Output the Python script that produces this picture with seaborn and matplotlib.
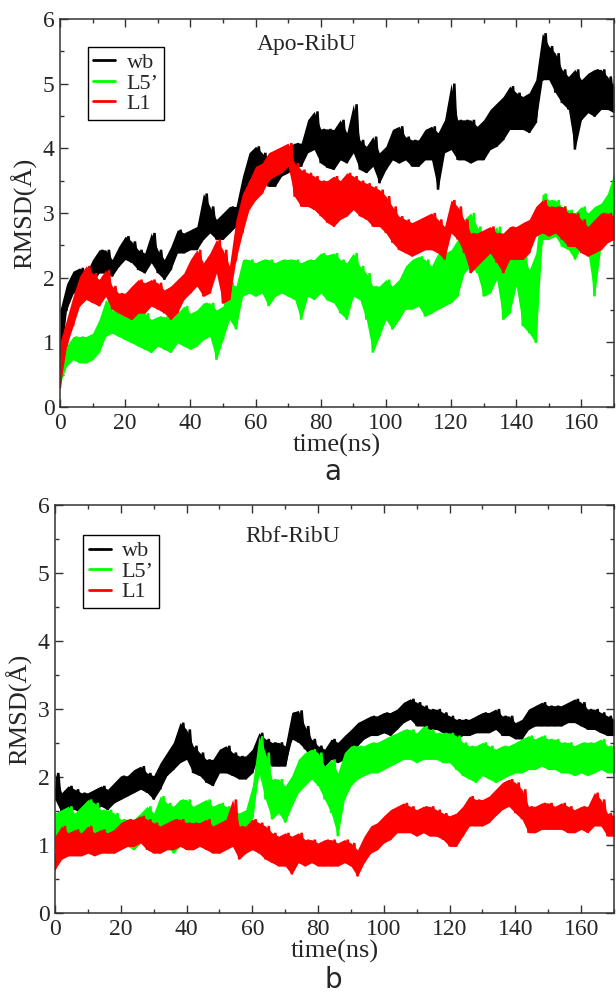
import glob
import numpy as np
import pandas as pd
import matplotlib
matplotlib.use("Agg")
import matplotlib.pyplot as plt
from matplotlib import font_manager as fm
from matplotlib.lines import Line2D
import seaborn as sns

# readings taken every 2 ns: lower / upper edge of each noisy trace (RMSD, Angstrom)
time_ns = list(range(0, 171, 2))
segments = ["wb", "L5\u2019", "L1"]
seg_colors = {"wb": "black", "L5\u2019": "#00ff00", "L1": "#ff0000"}

# ---- a: Apo-RibU
apo_wb_lo = [0.6, 1.5, 1.75, 1.87, 1.76, 1.92, 2.07, 2.07, 2.02, 2.17,
             2.28, 2.23, 2.12, 2.07, 2.23, 2.07, 1.97, 2.12, 2.38, 2.38,
             2.43, 2.43, 2.59, 2.69, 2.59, 2.59, 2.69, 2.79, 3.2, 3.5,
             3.57, 3.5, 3.41, 3.41, 3.57, 3.62, 3.72, 3.72, 3.93, 3.98,
             3.77, 3.7, 3.67, 3.82, 3.77, 3.93, 3.67, 3.62, 3.72, 3.46,
             3.67, 3.82, 3.77, 3.82, 3.72, 3.72, 3.82, 3.82, 3.36, 3.93,
             3.98, 3.82, 3.82, 3.77, 3.82, 3.82, 3.98, 4.03, 4.13, 4.29,
             4.29, 4.29, 4.24, 4.39, 5.06, 5.06, 4.86, 4.7, 4.6, 3.98,
             4.44, 4.55, 4.49, 4.6, 4.6, 4.55]
apo_wb_hi = [1.5, 1.9, 2.1, 2.15, 2.07, 2.28, 2.43, 2.43, 2.28, 2.48,
             2.64, 2.56, 2.43, 2.38, 2.69, 2.43, 2.28, 2.48, 2.74, 2.69,
             2.74, 2.79, 3.3, 3.1, 2.9, 3.0, 3.1, 3.1, 3.57, 3.93,
             4.03, 3.93, 3.82, 3.88, 3.98, 4.03, 4.08, 4.08, 4.44, 4.57,
             4.3, 4.3, 4.29, 4.44, 4.24, 4.68, 4.13, 4.03, 4.18, 3.93,
             4.03, 4.29, 4.34, 4.18, 4.13, 4.13, 4.29, 4.34, 4.24, 4.44,
             5.0, 4.44, 4.44, 4.44, 4.34, 4.44, 4.6, 4.7, 4.8, 4.96,
             4.86, 4.8, 4.86, 5.06, 5.78, 5.58, 5.47, 5.22, 5.11, 5.22,
             5.06, 5.16, 5.22, 5.22, 5.11, 4.96]
apo_l5_lo = [0.35, 0.63, 0.73, 0.68, 0.68, 0.73, 0.84, 1.09, 1.14, 1.09,
             1.04, 0.99, 0.94, 0.89, 0.84, 0.94, 0.89, 0.84, 0.99, 0.94,
             0.89, 0.94, 1.04, 1.09, 0.73, 1.04, 1.35, 1.2, 1.71, 1.76,
             1.71, 1.76, 1.56, 1.71, 1.76, 1.71, 1.66, 1.35, 1.71, 1.66,
             1.76, 1.65, 1.61, 1.45, 1.35, 1.71, 1.66, 1.35, 0.84, 1.09,
             1.35, 1.2, 1.35, 1.51, 1.51, 1.56, 1.4, 1.45, 1.51, 1.56,
             1.61, 1.71, 2.07, 2.18, 2.07, 1.71, 1.76, 1.97, 1.35, 1.45,
             1.87, 1.25, 1.14, 0.99, 2.59, 2.59, 2.64, 2.48, 2.43, 2.28,
             2.48, 2.38, 1.71, 2.48, 2.79, 2.9]
apo_l5_hi = [0.8, 0.94, 1.09, 1.09, 1.09, 1.14, 1.35, 1.66, 1.5, 1.45,
             1.4, 1.45, 1.5, 1.45, 1.35, 1.4, 1.4, 1.35, 1.45, 1.56,
             1.45, 1.5, 1.61, 1.61, 1.5, 1.56, 1.92, 1.87, 2.28, 2.28,
             2.23, 2.28, 2.28, 2.23, 2.28, 2.28, 2.28, 2.23, 2.28, 2.28,
             2.38, 2.35, 2.38, 2.28, 2.23, 2.38, 2.18, 2.07, 1.87, 1.87,
             1.97, 1.87, 1.97, 2.18, 2.28, 2.33, 2.28, 2.18, 2.38, 2.38,
             2.43, 2.59, 2.9, 3.0, 2.79, 2.64, 2.69, 2.79, 2.48, 2.38,
             2.79, 2.38, 2.12, 2.38, 3.3, 3.2, 3.2, 3.1, 3.05, 3.0,
             3.1, 3.0, 3.1, 3.15, 3.3, 3.62]
apo_l1_lo = [0.3, 0.94, 1.25, 1.56, 1.66, 1.61, 1.56, 1.71, 1.51, 1.45,
             1.4, 1.35, 1.45, 1.45, 1.56, 1.51, 1.45, 1.35, 1.45, 1.66,
             1.76, 1.87, 1.71, 1.76, 2.07, 1.6, 1.66, 2.28, 2.69, 3.05,
             3.2, 3.3, 3.5, 3.57, 3.62, 3.72, 3.25, 3.1, 3.1, 3.05,
             2.95, 2.85, 2.79, 2.9, 2.95, 3.05, 2.95, 2.9, 2.79, 2.79,
             2.69, 2.54, 2.43, 2.38, 2.33, 2.38, 2.43, 2.43, 2.38, 2.28,
             2.69, 2.59, 2.38, 2.07, 2.18, 2.28, 2.38, 2.23, 2.07, 2.28,
             2.28, 2.28, 2.38, 2.64, 2.69, 2.64, 2.69, 2.59, 2.48, 2.48,
             2.38, 2.33, 2.38, 2.43, 2.54, 2.59]
apo_l1_hi = [1.0, 1.35, 1.71, 2.02, 2.18, 2.07, 1.97, 2.12, 1.87, 1.76,
             1.76, 1.87, 1.97, 1.92, 1.97, 1.92, 1.81, 1.87, 1.97, 2.07,
             2.28, 2.43, 2.23, 2.38, 2.59, 2.43, 2.18, 2.9, 3.3, 3.5,
             3.72, 3.77, 3.93, 3.98, 4.03, 4.08, 3.77, 3.67, 3.62, 3.57,
             3.5, 3.5, 3.57, 3.5, 3.62, 3.57, 3.5, 3.46, 3.41, 3.36,
             3.26, 3.1, 2.95, 2.9, 2.85, 2.9, 2.95, 3.0, 2.9, 2.79,
             3.2, 3.1, 2.9, 2.69, 2.69, 2.74, 2.79, 2.69, 2.69, 2.79,
             2.79, 2.85, 2.9, 3.1, 3.2, 3.1, 3.1, 3.1, 3.0, 3.0,
             2.9, 2.79, 2.9, 3.0, 3.0, 2.95]

# ---- b: Rbf-RibU
rbf_wb_lo = [1.67, 1.47, 1.52, 1.52, 1.47, 1.47, 1.52, 1.57, 1.52, 1.62,
             1.67, 1.72, 1.77, 1.82, 1.77, 1.67, 1.82, 2.02, 2.11, 2.21,
             2.26, 2.06, 2.02, 1.92, 1.87, 2.06, 2.06, 2.02, 1.97, 1.97,
             2.06, 2.31, 2.26, 2.16, 2.16, 2.16, 2.56, 2.51, 2.41, 2.26,
             2.21, 2.16, 2.26, 2.21, 2.26, 2.36, 2.46, 2.56, 2.61, 2.61,
             2.65, 2.61, 2.7, 2.8, 2.85, 2.75, 2.75, 2.7, 2.7, 2.65,
             2.61, 2.56, 2.61, 2.61, 2.65, 2.65, 2.65, 2.7, 2.61, 2.61,
             2.56, 2.56, 2.7, 2.75, 2.75, 2.75, 2.75, 2.75, 2.8, 2.8,
             2.75, 2.7, 2.7, 2.65, 2.61, 2.61]
rbf_wb_hi = [2.06, 1.77, 1.87, 1.82, 1.77, 1.77, 1.82, 1.87, 1.82, 1.92,
             2.02, 2.02, 2.11, 2.16, 2.06, 2.02, 2.21, 2.36, 2.51, 2.8,
             2.7, 2.46, 2.36, 2.26, 2.26, 2.41, 2.46, 2.36, 2.31, 2.31,
             2.41, 2.65, 2.56, 2.51, 2.51, 2.46, 2.95, 2.98, 2.75, 2.56,
             2.46, 2.41, 2.56, 2.51, 2.61, 2.7, 2.8, 2.85, 2.9, 2.9,
             2.95, 2.95, 3.0, 3.1, 3.15, 3.1, 3.05, 3.0, 3.0, 2.95,
             2.9, 2.85, 2.85, 2.85, 2.9, 2.95, 2.95, 3.0, 2.9, 2.9,
             2.8, 2.85, 3.0, 3.05, 3.1, 3.05, 3.05, 3.05, 3.1, 3.15,
             3.1, 3.0, 3.0, 2.95, 2.9, 2.85]
rbf_l5_lo = [0.98, 1.13, 1.18, 1.08, 1.13, 1.18, 1.18, 1.08, 1.13, 1.08,
             0.98, 0.98, 0.93, 1.03, 1.08, 0.98, 1.13, 0.98, 0.88, 0.98,
             1.08, 1.13, 1.13, 1.13, 1.18, 1.18, 1.18, 1.18, 1.18, 1.23,
             1.38, 2.06, 1.67, 1.38, 1.47, 1.33, 1.57, 1.77, 1.87, 1.97,
             1.87, 1.67, 1.47, 1.13, 1.67, 1.87, 1.97, 2.02, 2.06, 2.06,
             2.11, 2.16, 2.21, 2.26, 2.26, 2.21, 2.26, 2.26, 2.26, 2.21,
             2.21, 2.11, 2.02, 1.97, 1.92, 2.02, 1.97, 1.92, 1.97, 2.02,
             2.06, 2.06, 2.11, 2.11, 2.16, 2.11, 2.11, 2.06, 2.06, 2.02,
             2.06, 2.02, 2.06, 2.11, 2.06, 2.06]
rbf_l5_hi = [1.47, 1.52, 1.57, 1.47, 1.57, 1.67, 1.62, 1.52, 1.52, 1.47,
             1.38, 1.38, 1.38, 1.47, 1.57, 1.47, 1.72, 1.62, 1.57, 1.67,
             1.67, 1.57, 1.62, 1.67, 1.57, 1.62, 1.57, 1.52, 1.47, 1.52,
             1.87, 2.6, 2.36, 1.97, 1.97, 1.87, 2.02, 2.26, 2.36, 2.41,
             2.36, 2.16, 2.26, 2.06, 2.36, 2.46, 2.46, 2.46, 2.51, 2.51,
             2.56, 2.61, 2.65, 2.7, 2.7, 2.65, 2.75, 2.7, 2.65, 2.65,
             2.65, 2.61, 2.51, 2.46, 2.46, 2.51, 2.46, 2.41, 2.46, 2.46,
             2.51, 2.56, 2.61, 2.56, 2.61, 2.56, 2.56, 2.51, 2.51, 2.46,
             2.51, 2.51, 2.51, 2.56, 2.46, 2.46]
rbf_l1_lo = [0.64, 0.79, 0.84, 0.84, 0.84, 0.88, 0.84, 0.88, 0.88, 0.88,
             0.93, 0.98, 0.98, 1.03, 0.93, 0.88, 0.88, 0.93, 0.93, 0.98,
             0.93, 0.93, 0.98, 0.93, 0.88, 0.88, 0.93, 0.98, 0.79, 0.88,
             0.93, 0.88, 0.79, 0.74, 0.69, 0.69, 0.57, 0.74, 0.69, 0.74,
             0.69, 0.69, 0.69, 0.69, 0.74, 0.69, 0.54, 0.74, 0.88, 0.93,
             1.03, 1.08, 1.18, 1.18, 1.18, 1.13, 1.18, 1.13, 1.13, 1.08,
             0.98, 0.98, 1.13, 1.28, 1.28, 1.28, 1.33, 1.43, 1.52, 1.57,
             1.47, 1.38, 1.18, 1.18, 1.23, 1.23, 1.23, 1.23, 1.18, 1.18,
             1.23, 1.18, 1.28, 1.28, 1.13, 1.13]
rbf_l1_hi = [1.13, 1.28, 1.18, 1.23, 1.18, 1.28, 1.18, 1.23, 1.18, 1.23,
             1.33, 1.38, 1.38, 1.43, 1.38, 1.33, 1.28, 1.33, 1.38, 1.38,
             1.33, 1.33, 1.33, 1.38, 1.28, 1.33, 1.38, 1.67, 1.28, 1.28,
             1.38, 1.33, 1.28, 1.18, 1.13, 1.18, 1.13, 1.18, 1.08, 1.08,
             1.03, 1.08, 1.08, 1.03, 1.08, 1.03, 0.93, 1.13, 1.28, 1.33,
             1.43, 1.52, 1.57, 1.62, 1.57, 1.52, 1.57, 1.57, 1.52, 1.47,
             1.43, 1.47, 1.57, 1.72, 1.67, 1.67, 1.72, 1.82, 1.92, 1.97,
             1.92, 1.82, 1.57, 1.57, 1.62, 1.62, 1.57, 1.62, 1.57, 1.52,
             1.57, 1.57, 1.77, 1.67, 1.47, 1.43]


# turn lo/hi readings into one jagged trace (lo at t, hi at t+1)
def trace(name, lo, hi):
    t, v = [], []
    for i in range(len(time_ns)):
        t += [time_ns[i], time_ns[i] + 1]
        v += [lo[i], hi[i]]
    return pd.DataFrame({"time": t, "rmsd": v, "seg": name})


def make_panel(ax, bands, title, title_xy, leg_xy):
    # bands: {seg: (lo, hi)}, drawn in legend order so L1 ends up on top
    for s in segments:
        lo, hi = bands[s]
        ax.fill_between(time_ns, lo, hi, color=seg_colors[s], lw=0, zorder=2)
        sns.lineplot(data=trace(s, lo, hi), x="time", y="rmsd", color=seg_colors[s],
                     estimator=None, sort=False, lw=1.8, legend=False, ax=ax,
                     zorder=2, solid_joinstyle="miter")
    ax.set_xlim(0, 170)
    ax.set_ylim(0, 6)
    ax.set_xticks(range(0, 161, 20))
    ax.set_xticks(range(0, 171, 10), minor=True)
    ax.set_yticks(range(0, 7))
    ax.set_yticks(np.arange(0, 6.01, 0.5), minor=True)
    ax.tick_params(which="both", direction="in", top=True, right=True,
                   width=1.0, color="#333333", labelsize=17, pad=4)
    ax.tick_params(which="major", length=6)
    ax.tick_params(which="minor", length=3)
    for sp in ax.spines.values():
        sp.set_linewidth(1.1)
        sp.set_color("#333333")
        sp.set_zorder(5)
    ax.set_xlabel("time(ns)", fontsize=19, labelpad=0)
    ax.set_ylabel("RMSD(\u00c5)", fontsize=19, labelpad=4)
    ax.text(title_xy[0], title_xy[1], title, transform=ax.transAxes,
            fontsize=17, ha="left", va="center")
    handles = [Line2D([], [], color=seg_colors[s], lw=2) for s in segments]
    leg = ax.legend(handles, segments, loc="upper left", bbox_to_anchor=leg_xy,
                    fontsize=16, frameon=True, fancybox=False, framealpha=1,
                    edgecolor="black", handlelength=1.0, handletextpad=0.5,
                    labelspacing=0.0, borderpad=0.25, borderaxespad=0)
    leg.get_frame().set_linewidth(1.0)
    leg.set_zorder(6)


# make sure the Times-like face is registered
for p in glob.glob("/usr/share/fonts/**/LiberationSerif*.ttf", recursive=True):
    fm.fontManager.addfont(p)

sns.set_style("ticks")
plt.rcParams["font.family"] = ["Liberation Serif", "DejaVu Serif"]

apo = {"wb": (apo_wb_lo, apo_wb_hi), "L5\u2019": (apo_l5_lo, apo_l5_hi),
       "L1": (apo_l1_lo, apo_l1_hi)}
rbf = {"wb": (rbf_wb_lo, rbf_wb_hi), "L5\u2019": (rbf_l5_lo, rbf_l5_hi),
       "L1": (rbf_l1_lo, rbf_l1_hi)}

fig = plt.figure(figsize=(6.16, 9.96), dpi=100)
ax1 = fig.add_axes([0.0974, 0.5914, 0.8994, 0.3896])
ax2 = fig.add_axes([0.0893, 0.0833, 0.9075, 0.4096])

make_panel(ax1, apo, "Apo-RibU", (0.356, 0.933), (0.05, 0.928))
make_panel(ax2, rbf, "Rbf-RibU", (0.34, 0.922), (0.05, 0.926))

fig.text(0.541, 0.526, "a", family="DejaVu Sans", fontsize=20, ha="center", va="center")
fig.text(0.541, 0.016, "b", family="DejaVu Sans", fontsize=20, ha="center", va="center")

fig.savefig("out.png", dpi=100)
